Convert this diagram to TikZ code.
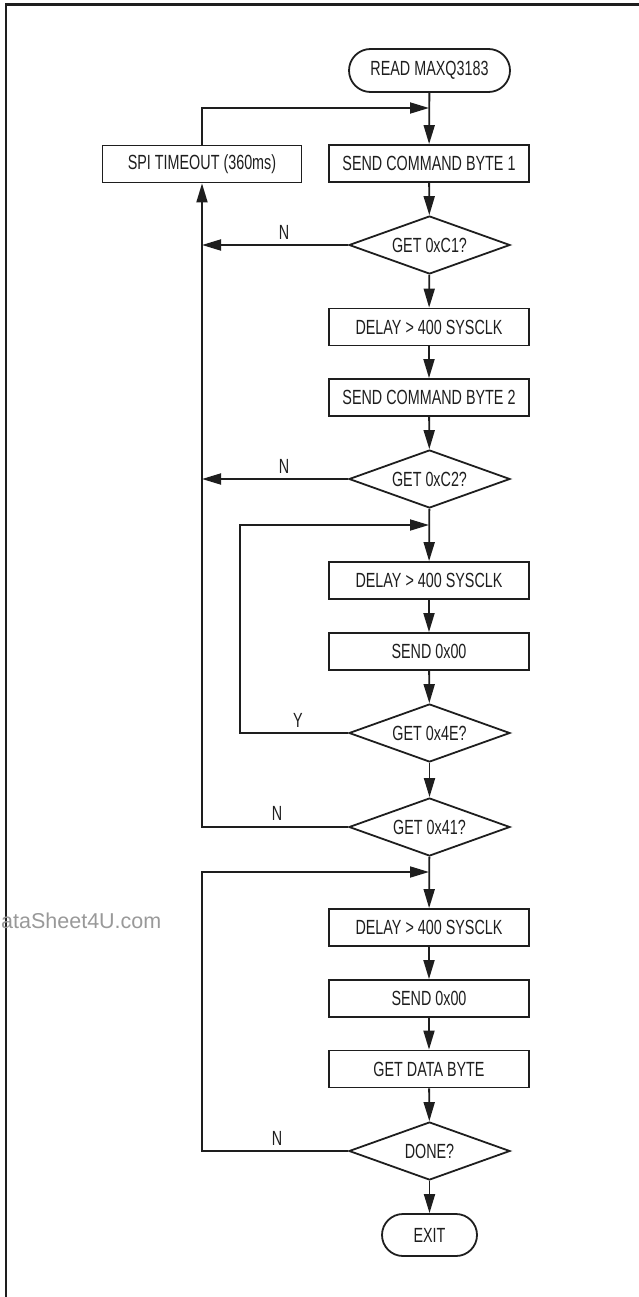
\documentclass[tikz,border=0pt]{standalone}
\usepackage{fontspec}
\setmainfont{Liberation Sans}[FakeStretch=0.7]
\newfontfamily\wmfont{Liberation Sans}
\usetikzlibrary{arrows.meta,shapes.geometric,shapes.misc}
\definecolor{ink}{HTML}{1E1E1E}
\tikzset{
  every node/.style={font=\fontsize{20.5}{22}\selectfont, text=ink},
  ln/.style={draw=ink, line width=1.8pt},
  arr/.style={ln, -{Triangle[length=19pt,width=11pt]}},
  stepbox/.style={ln, rectangle, minimum width=200pt, minimum height=37pt, inner sep=0pt},
  decide/.style={ln, diamond, shape aspect=2.78, minimum width=161pt, minimum height=58pt, inner sep=0pt},
  term/.style={ln, rounded rectangle, minimum height=43pt, inner sep=0pt},
  lbl/.style={inner sep=0pt},
}
\begin{document}
\begin{tikzpicture}[x=1pt,y=-1pt]
\useasboundingbox (0,0) rectangle (638,1297);
% frame
\draw[draw=ink, line width=2.5pt] (640,4.5) -- (6,4.5) -- (6,1300);
% watermark
\node[anchor=base west, inner sep=0pt, text=black!40, font=\wmfont\fontsize{21.5}{24}\selectfont] (wm) at (1,928) {ataSheet4U.com};

% nodes
\node[term, minimum width=161pt] (start) at (429.5,70.5) {READ MAXQ3183};
\node[stepbox] (c1) at (429,163.5) {SEND COMMAND BYTE 1};
\node[stepbox, minimum width=199pt] (spi) at (202,164) {SPI TIMEOUT (360ms)};
\node[decide] (d1) at (429.5,245) {GET 0xC1?};
\node[stepbox] (dl1) at (429,327) {DELAY > 400 SYSCLK};
\node[stepbox] (c2) at (429,397.5) {SEND COMMAND BYTE 2};
\node[decide] (d2) at (429.5,479) {GET 0xC2?};
\node[stepbox] (dl2) at (429,580.5) {DELAY > 400 SYSCLK};
\node[stepbox] (s1) at (429,651.5) {SEND 0x00};
\node[decide] (d3) at (429.5,733) {GET 0x4E?};
\node[decide] (d4) at (429.5,827) {GET 0x41?};
\node[stepbox] (dl3) at (429,927.5) {DELAY > 400 SYSCLK};
\node[stepbox] (s2) at (429,998.5) {SEND 0x00};
\node[stepbox] (gd) at (429,1069) {GET DATA BYTE};
\node[decide] (d5) at (429.5,1151) {DONE?};
\node[term, minimum width=95pt, minimum height=42pt] (exit) at (429.5,1235) {EXIT};

% merge points
\coordinate (m1) at (429,108);
\coordinate (m2) at (429,525);
\coordinate (m3) at (429,872);
\coordinate (yl) at (240,525);
\coordinate (dl) at (202,872);

% main flow
\draw[arr] (start) -- (c1);
\draw[arr] (c1) -- (d1);
\draw[arr] (d1) -- (dl1);
\draw[arr] (dl1) -- (c2);
\draw[arr] (c2) -- (d2);
\draw[arr] (d2) -- (dl2);
\draw[arr] (dl2) -- (s1);
\draw[arr] (s1) -- (d3);
\draw[arr] (d3) -- (d4);
\draw[arr] (d4) -- (dl3);
\draw[arr] (dl3) -- (s2);
\draw[arr] (s2) -- (gd);
\draw[arr] (gd) -- (d5);
\draw[arr] (d5) -- (exit);

% timeout loop
\draw[arr] (spi.north) |- (m1);
\draw[arr] (d1.west) -- (d1.west -| spi.south);
\draw[arr] (d2.west) -- (d2.west -| spi.south);
\draw[arr] (d4.west) -| (spi.south);

% Y loop and done loop
\draw[arr] (d3.west) -| (yl) -- (m2);
\draw[arr] (d5.west) -| (dl) -- (m3);

% labels
\node[lbl] (n1) at (284,232) {N};
\node[lbl] (n2) at (284,466) {N};
\node[lbl] (y1) at (298,720) {Y};
\node[lbl] (n3) at (277,813) {N};
\node[lbl] (n4) at (277,1138) {N};
\end{tikzpicture}
\end{document}
